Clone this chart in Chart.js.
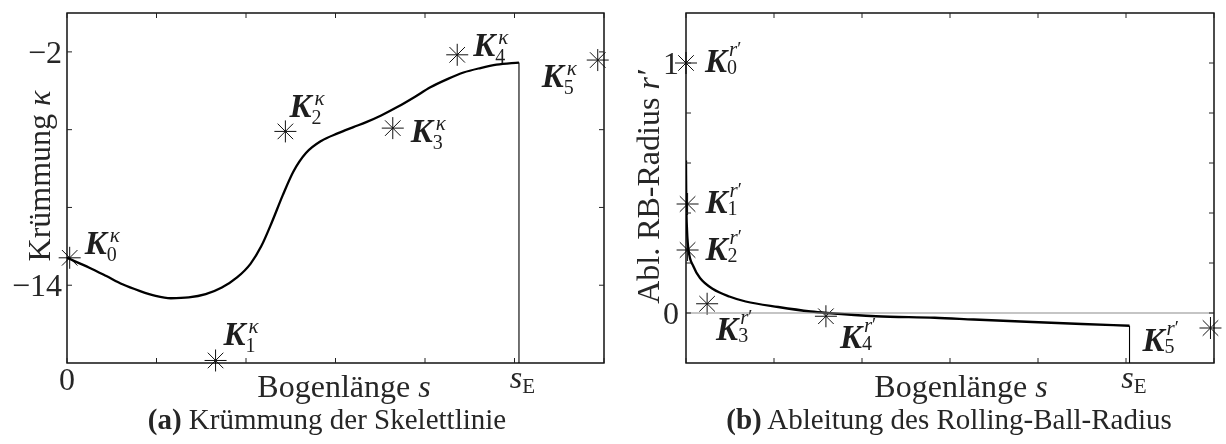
<!DOCTYPE html>
<html><head><meta charset="utf-8">
<script src="https://cdn.jsdelivr.net/npm/chart.js@4.4.1/dist/chart.umd.min.js"></script>
<style>
html,body{margin:0;padding:0;background:#fff;width:1226px;height:444px;overflow:hidden;}
#a{position:absolute;left:0;top:0;}
#b{position:absolute;left:616px;top:0;}
.cap{position:absolute;top:402px;height:34px;line-height:34px;font-family:"Liberation Serif",serif;font-size:29px;color:#262626;white-space:nowrap;transform:translateX(-50%);}
</style></head><body>
<canvas id="a" width="616" height="444"></canvas>
<canvas id="b" width="610" height="444"></canvas>
<div class="cap" style="left:327px"><b>(a)</b> Krümmung der Skelettlinie</div>
<div class="cap" style="left:949px"><b>(b)</b> Ableitung des Rolling-Ball-Radius</div>
<script>
// ---------- Panel (a): Krümmung der Skelettlinie ----------
const sA = [0, 0.25, 0.44, 0.62, 0.81, 0.99, 1.16, 1.36, 1.55, 1.73, 1.9, 2.05, 2.17, 2.29, 2.41, 2.53, 2.67, 2.84, 3.03, 3.2, 3.35, 3.51, 3.69, 3.88, 4.06, 4.25, 4.43, 4.62, 4.8, 5.05];
const kA = [-12.59, -13.10, -13.53, -13.95, -14.29, -14.55, -14.67, -14.63, -14.46, -14.12, -13.6, -12.9, -12.0, -10.75, -9.38, -8.15, -7.2, -6.58, -6.18, -5.87, -5.6, -5.27, -4.84, -4.33, -3.82, -3.40, -3.06, -2.83, -2.66, -2.55];
const markSA = [0.03, 1.66, 2.44, 3.64, 4.36, 5.93];
const markKA = [-12.59, -17.87, -6.09, -5.92, -2.15, -2.42];
const markNamesA = ['0', '1', '2', '3', '4', '5'];
const xRangeA = [0, 6];
const yRangeA = [-18, 0];
const xTicksA = [0, 1, 2, 3, 4, 5, 6];
const xTickLabelsA = ['0', '', '', '', '', 's_E', ''];
const yTicksA = [-14, -10, -6, -2];
const yTickLabelsA = ['−14', '', '', '−2'];

// ---------- Panel (b): Ableitung des Rolling-Ball-Radius ----------
const sB = [0, 0.001, 0.003, 0.012, 0.029, 0.085, 0.159, 0.307, 0.492, 0.678, 1.048, 1.418, 1.603, 2.159, 2.826, 3.27, 3.937, 4.5, 5.04];
const rB = [0.61, 0.55, 0.452, 0.33, 0.252, 0.186, 0.140, 0.096, 0.066, 0.046, 0.024, 0.006, 0.0, -0.013, -0.019, -0.026, -0.036, -0.044, -0.051];
const markSB = [0, 0.018, 0.018, 0.24, 1.59, 5.96];
const markRB = [1.0, 0.436, 0.252, 0.037, -0.013, -0.06];
const markNamesB = ['0', '1', '2', '3', '4', '5'];
const xRangeB = [0, 6];
const yRangeB = [-0.2, 1.2];
const xTicksB = [0, 1, 2, 3, 4, 5, 6];
const xTickLabelsB = ['', '', '', '', '', 's_E', ''];
const yTicksB = [0, 0.2, 0.4, 0.6, 0.8, 1.0];
const yTickLabelsB = ['0', '', '', '', '', '1'];
const zeroLineB = [0, 0];

const FONT = '"Liberation Serif", "DejaVu Serif", serif';
const TXT = '#262626';

function drawRich(ctx, segs, x, y, align) {
  let w = 0;
  segs.forEach(s => { ctx.font = s.f; s.w = ctx.measureText(s.t).width; w += s.w; });
  let cx = align === 'center' ? x - w / 2 : (align === 'right' ? x - w : x);
  segs.forEach(s => { ctx.font = s.f; ctx.textAlign = 'left'; ctx.fillText(s.t, cx, y + (s.dy || 0)); cx += s.w; });
}

function drawK(ctx, x, y, name, supType) {
  ctx.fillStyle = '#1e1e1e';
  ctx.textAlign = 'left';
  ctx.textBaseline = 'alphabetic';
  ctx.font = 'italic bold 33px ' + FONT;
  ctx.fillText('K', x, y);
  const wK = ctx.measureText('K').width;
  if (supType === 'kappa') {
    ctx.font = 'italic 21px ' + FONT;
    ctx.fillText('κ', x + wK + 3, y - 12);
    ctx.font = '20px ' + FONT;
    ctx.fillText(name, x + wK, y + 7);
  } else {
    ctx.font = 'italic 21px ' + FONT;
    ctx.fillText('r', x + wK + 2, y - 16);
    const wr = ctx.measureText('r').width;
    ctx.font = '19px ' + FONT;
    ctx.fillText('′', x + wK + 2 + wr, y - 17);
    ctx.font = '20px ' + FONT;
    ctx.fillText(name, x + wK, y + 2);
  }
}

function makeFramePlugin(cfg) {
  return {
    id: 'frame' + cfg.id,
    afterDraw(chart) {
      const ctx = chart.ctx;
      const a = chart.chartArea;
      const xs = chart.scales.x, ys = chart.scales.y;
      ctx.save();
      ctx.strokeStyle = '#000';
      ctx.lineWidth = 1.4;
      ctx.strokeRect(a.left, a.top, a.right - a.left, a.bottom - a.top);
      ctx.lineWidth = 1;
      ctx.strokeStyle = '#222';
      const TL = 5;
      cfg.xTicks.forEach(v => {
        const px = xs.getPixelForValue(v);
        ctx.beginPath();
        ctx.moveTo(px, a.bottom); ctx.lineTo(px, a.bottom - TL);
        ctx.moveTo(px, a.top); ctx.lineTo(px, a.top + TL);
        ctx.stroke();
      });
      cfg.yTicks.forEach(v => {
        const py = ys.getPixelForValue(v);
        ctx.beginPath();
        ctx.moveTo(a.left, py); ctx.lineTo(a.left + TL, py);
        ctx.moveTo(a.right, py); ctx.lineTo(a.right - TL, py);
        ctx.stroke();
      });
      ctx.fillStyle = TXT;
      ctx.textBaseline = 'alphabetic';
      cfg.yTicks.forEach((v, i) => {
        const lab = cfg.yLabels[i];
        if (!lab) return;
        ctx.font = '32px ' + FONT;
        ctx.textAlign = 'right';
        ctx.fillText(lab, a.left - cfg.yGap, ys.getPixelForValue(v) + 11);
      });
      cfg.xTicks.forEach((v, i) => {
        const lab = cfg.xLabels[i];
        if (!lab) return;
        const px = xs.getPixelForValue(v);
        if (lab.indexOf('_') >= 0) {
          const parts = lab.split('_');
          drawRich(ctx, [
            { t: parts[0], f: 'italic 32px ' + FONT },
            { t: parts[1], f: '21px ' + FONT, dy: 5 }
          ], px + 8, a.bottom + 25, 'center');
        } else {
          ctx.font = '32px ' + FONT;
          ctx.textAlign = 'center';
          ctx.fillText(lab, px, a.bottom + 27);
        }
      });
      drawRich(ctx, [
        { t: 'Bogenlänge ', f: '32px ' + FONT },
        { t: 's', f: 'italic 32px ' + FONT }
      ], cfg.xTitleX, a.bottom + 34, 'center');
      ctx.save();
      ctx.translate(a.left - cfg.yTitleOff, cfg.yTitleY);
      ctx.rotate(-Math.PI / 2);
      drawRich(ctx, cfg.yTitle, 0, 0, 'center');
      ctx.restore();
      cfg.marks.forEach((m, i) => {
        const px = xs.getPixelForValue(m[0]);
        const py = ys.getPixelForValue(m[1]);
        const off = cfg.labelOff[i];
        drawK(ctx, px + off[0], py + off[1], cfg.names[i], cfg.sup);
      });
      ctx.restore();
    }
  };
}

function pts(xs, ys) { return xs.map((x, i) => ({ x: x, y: ys[i] })); }

Chart.defaults.font.family = FONT;

new Chart(document.getElementById('a'), {
  type: 'scatter',
  data: {
    datasets: [
      { type: 'line', data: pts(sA, kA), borderColor: '#000', borderWidth: 2.3, pointRadius: 0, cubicInterpolationMode: 'monotone', fill: false },
      { type: 'line', data: [{ x: sA[sA.length - 1], y: kA[kA.length - 1] }, { x: sA[sA.length - 1], y: yRangeA[0] }], borderColor: '#000', borderWidth: 1.1, pointRadius: 0, fill: false },
      { type: 'scatter', data: pts(markSA, markKA), pointStyle: 'star', pointRadius: 11, pointHoverRadius: 11, borderColor: '#111', pointBorderColor: '#111', pointBorderWidth: 1, borderWidth: 1, clip: false }
    ]
  },
  options: {
    responsive: false, animation: false, devicePixelRatio: 1,
    layout: { padding: { left: 67, top: 13, right: 8, bottom: 81 } },
    plugins: { legend: { display: false }, tooltip: { enabled: false } },
    events: [],
    scales: {
      x: { type: 'linear', display: false, min: xRangeA[0], max: xRangeA[1] },
      y: { type: 'linear', display: false, min: yRangeA[0], max: yRangeA[1] }
    }
  },
  plugins: [makeFramePlugin({
    id: 'A', xTicks: xTicksA, yTicks: yTicksA, xLabels: xTickLabelsA, yLabels: yTickLabelsA, yGap: 5,
    xTitleX: 344, yTitleOff: 17, yTitleY: 176,
    yTitle: [{ t: 'Krümmung ', f: '32px ' + FONT }, { t: 'κ', f: 'italic 32px ' + FONT }],
    marks: markSA.map((s, i) => [s, markKA[i]]), names: markNamesA, sup: 'kappa',
    labelOff: [[15, -4], [8, -15], [4, -14], [18, 14], [16, 1], [-56, 27]]
  })]
});

new Chart(document.getElementById('b'), {
  type: 'scatter',
  data: {
    datasets: [
      { type: 'line', data: [{ x: xRangeB[0], y: zeroLineB[0] }, { x: xRangeB[1], y: zeroLineB[1] }], borderColor: '#8c8c8c', borderWidth: 1.2, pointRadius: 0, fill: false },
      { type: 'line', data: pts(sB, rB), borderColor: '#000', borderWidth: 2.3, pointRadius: 0, cubicInterpolationMode: 'monotone', fill: false },
      { type: 'line', data: [{ x: sB[sB.length - 1], y: rB[rB.length - 1] }, { x: sB[sB.length - 1], y: yRangeB[0] }], borderColor: '#000', borderWidth: 1.1, pointRadius: 0, fill: false },
      { type: 'scatter', data: pts(markSB, markRB), pointStyle: 'star', pointRadius: 11, pointHoverRadius: 11, borderColor: '#111', pointBorderColor: '#111', pointBorderWidth: 1, borderWidth: 1, clip: false }
    ]
  },
  options: {
    responsive: false, animation: false, devicePixelRatio: 1,
    layout: { padding: { left: 70, top: 13, right: 1, bottom: 81 } },
    plugins: { legend: { display: false }, tooltip: { enabled: false } },
    events: [],
    scales: {
      x: { type: 'linear', display: false, min: xRangeB[0], max: xRangeB[1] },
      y: { type: 'linear', display: false, min: yRangeB[0], max: yRangeB[1] }
    }
  },
  plugins: [makeFramePlugin({
    id: 'B', xTicks: xTicksB, yTicks: yTicksB, xLabels: xTickLabelsB, yLabels: yTickLabelsB, yGap: 7,
    xTitleX: 345, yTitleOff: 27, yTitleY: 187,
    yTitle: [{ t: 'Abl. RB-Radius ', f: '32px ' + FONT }, { t: 'r′', f: 'italic 32px ' + FONT }],
    marks: markSB.map((s, i) => [s, markRB[i]]), names: markNamesB, sup: 'rprime',
    labelOff: [[19, 9], [18, 9], [18, 10], [9, 36], [14, 32], [-68, 23]]
  })]
});
</script>
</body></html>
